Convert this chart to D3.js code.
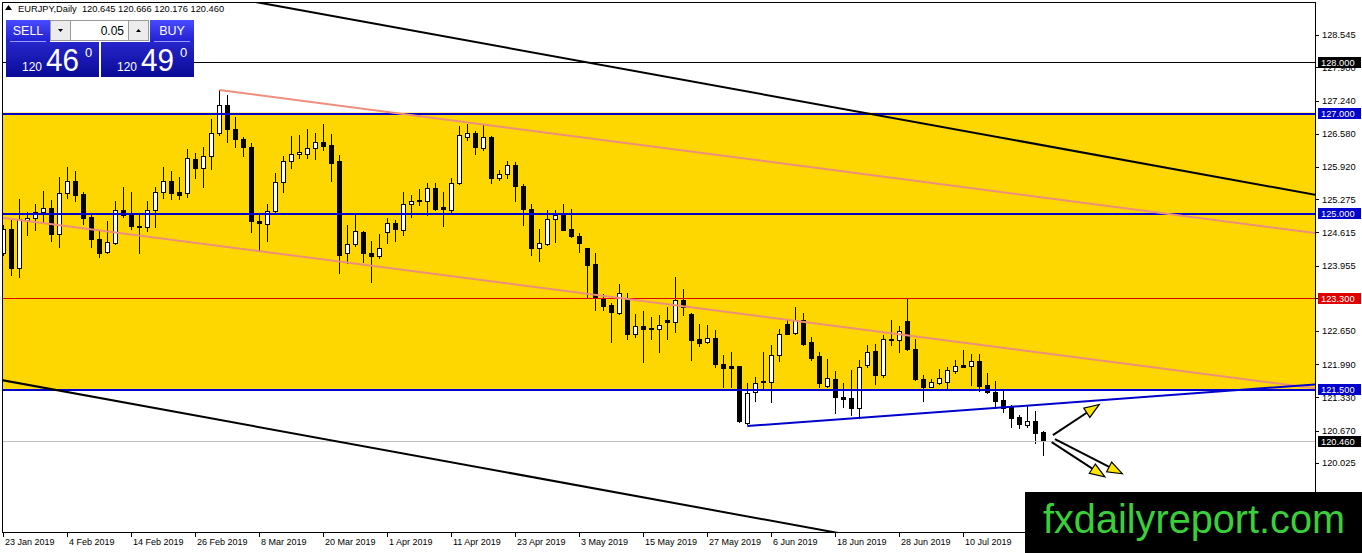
<!DOCTYPE html>
<head>
  <meta charset="utf-8">
  <script src="https://cdn.jsdelivr.net/npm/d3@7"></script>
  <style>
    body {
      margin: 0;
      background: #fff;
      overflow: hidden;
    }
    svg {
      display: block;
      font-family: "Liberation Sans", Arial, sans-serif;
    }
  </style>
</head>

<body>
  <svg width="1362" height="553"></svg>

  <script>
    // daily EURJPY bars, 23 Jan 2019 .. 24 Jul 2019
    var openPx = [124.20,124.69,123.90,124.86,124.91,125.03,125.11,124.59,125.39,125.64,
      125.38,124.92,124.49,124.22,124.41,125.07,124.96,124.74,124.72,125.06,
      125.41,125.64,125.41,125.39,126.07,125.89,126.13,126.59,127.16,126.67,
      126.47,126.31,124.84,124.79,125.04,125.62,126.03,126.17,126.17,126.30,
      126.41,126.35,126.03,124.20,124.38,124.63,124.21,124.15,124.63,124.81,
      124.67,125.18,125.26,125.24,125.49,125.12,125.07,125.59,126.52,126.59,
      126.29,126.51,125.69,125.77,125.96,125.54,125.09,124.30,124.38,124.89,
      125.00,124.69,124.54,124.30,123.98,123.30,123.17,123.01,123.28,122.60,
      122.75,122.70,122.69,122.87,122.83,123.27,122.99,122.50,122.44,122.52,
      122.00,121.95,121.95,120.83,121.43,121.63,121.64,122.17,122.79,122.62,
      122.87,122.43,122.15,121.55,121.70,121.33,121.31,121.11,121.97,122.25,
      121.77,122.49,122.48,122.85,122.30,121.69,121.54,121.61,121.63,121.86,
      121.97,121.96,122.05,121.57,121.43,121.27,121.13,120.94,120.78,120.86,
      120.645];
    var highPx = [124.76,124.86,125.29,125.03,125.19,125.44,125.26,125.71,125.91,125.84,
      125.42,125.00,124.65,124.85,125.24,125.52,125.42,124.96,125.24,125.51,
      125.91,125.84,125.72,126.27,126.19,126.31,126.87,127.45,127.35,126.92,
      126.52,126.39,124.99,125.19,125.79,126.14,126.53,126.55,126.67,126.59,
      126.77,126.57,126.15,124.77,124.99,124.64,124.44,124.59,124.90,124.86,
      125.41,125.36,125.47,125.59,125.59,125.42,125.69,126.73,126.77,126.64,
      126.75,126.53,125.86,126.04,126.02,125.58,125.19,124.69,125.07,125.07,
      125.18,125.09,124.61,124.31,124.21,123.38,123.21,123.58,123.41,123.00,
      123.05,122.93,122.97,123.14,123.72,123.49,123.01,122.79,122.77,122.67,
      122.17,122.24,121.95,121.61,121.74,122.24,122.37,122.70,122.88,123.13,
      123.01,122.53,122.24,122.10,121.86,121.61,121.87,122.08,122.37,122.39,
      122.57,122.87,122.75,123.30,122.50,121.77,121.69,121.89,121.94,122.08,
      122.28,122.19,122.19,121.81,121.66,121.46,121.18,120.99,121.18,121.06,
      120.666];
    var lowPx = [124.16,123.76,123.73,124.56,124.66,124.83,124.45,124.33,125.31,125.24,
      124.78,124.32,124.13,124.21,124.38,124.93,124.69,124.20,124.65,124.72,
      125.31,125.29,125.29,125.32,125.69,125.51,125.87,126.55,126.41,126.32,
      126.14,124.63,124.26,124.45,125.03,125.42,125.90,126.09,126.10,126.07,
      126.25,125.64,123.80,124.00,124.35,124.02,123.63,124.10,124.40,124.45,
      124.57,124.93,125.16,124.96,125.06,124.74,125.02,125.58,126.45,126.17,
      126.25,125.60,125.66,125.70,125.24,124.76,124.16,124.05,124.36,124.43,
      124.67,124.53,124.23,123.33,123.08,123.07,122.44,122.99,122.50,122.54,
      122.04,122.50,122.24,122.50,122.63,122.97,122.08,122.35,122.42,121.94,
      121.54,121.54,120.84,120.81,121.26,121.51,121.24,122.06,122.59,122.60,
      122.37,122.08,121.54,121.54,121.02,121.13,120.99,120.93,121.94,121.59,
      121.73,122.37,122.24,122.28,121.67,121.26,121.53,121.59,121.51,121.81,
      121.93,121.57,121.46,121.41,121.11,121.04,120.74,120.73,120.74,120.43,
      120.176];
    var closePx = [124.69,123.90,124.89,124.91,125.03,125.11,124.58,125.39,125.64,125.36,
      124.91,124.49,124.20,124.42,125.07,124.96,124.74,124.72,125.06,125.41,
      125.64,125.40,125.36,126.09,125.89,126.13,126.60,127.15,126.67,126.47,
      126.31,124.85,124.81,125.04,125.62,126.03,126.17,126.21,126.30,126.41,
      126.34,126.00,124.16,124.38,124.64,124.21,124.15,124.30,124.81,124.69,
      125.18,125.24,125.24,125.49,125.09,125.08,125.59,126.55,126.59,126.31,
      126.51,125.69,125.77,125.96,125.54,125.09,124.30,124.40,124.89,124.97,
      124.67,124.54,124.41,123.96,123.30,123.15,123.03,123.41,122.60,122.75,
      122.69,122.71,122.77,122.83,123.27,123.14,122.47,122.42,122.52,121.99,
      121.92,121.92,120.86,121.42,121.62,121.66,122.17,122.59,122.60,122.87,
      122.40,122.12,121.62,121.71,121.33,121.30,121.11,121.94,122.24,121.77,
      122.50,122.50,122.65,122.30,121.69,121.54,121.63,121.71,121.87,121.95,
      121.94,122.05,121.55,121.44,121.26,121.11,120.93,120.80,120.86,120.62,
      120.460];

    // time axis: a label every 8 bars
    var dateTicks = [0, 8, 16, 24, 32, 40, 48, 56, 64, 72, 80, 88, 96, 104, 112, 120];
    var dateLabels = ['23 Jan 2019', '4 Feb 2019', '14 Feb 2019', '26 Feb 2019', '8 Mar 2019',
      '20 Mar 2019', '1 Apr 2019', '11 Apr 2019', '23 Apr 2019', '3 May 2019', '15 May 2019',
      '27 May 2019', '6 Jun 2019', '18 Jun 2019', '28 Jun 2019', '10 Jul 2019'];

    // price axis
    var priceTicks = [128.545, 127.900, 127.240, 126.580, 125.920, 125.275, 124.615, 123.955,
      123.300, 122.650, 121.990, 121.330, 120.670, 120.025, 119.365];
    var levelPx = [128.000, 127.000, 125.000, 123.300, 121.500, 120.460];
    var levelKind = ['black', 'blue', 'blue', 'red', 'blue', 'last'];
    var zonePx = [127.000, 121.500];

    // drawn objects: [bar, price, bar, price]
    var channelTop = [32.3, 129.18, 164.1, 125.36];
    var channelBottom = [0, 121.67, 102.7, 118.68];
    var pinkTop = [27, 127.45, 164.1, 124.60];
    var pinkBottom = [0, 124.905, 164.1, 121.51];
    var blueTrend = [93, 120.76, 164.1, 121.59];
    var arrowFrom = [[131.2, 120.58], [131.05, 120.44], [131.46, 120.50]];
    var arrowTo = [[137.0, 121.19], [137.7, 119.75], [139.9, 119.81]];

    var header = 'EURJPY,Daily  120.645 120.666 120.176 120.460';

    var plotL = 2, plotT = 2, plotR = 1315, plotB = 532;
    var svg = d3.select('svg');

    var x = d3.scaleLinear().domain([0, 130]).range([3.3, 1043.3]);
    var y = d3.scaleLinear().domain([120.025, 128.545]).range([463, 35]);

    var blue = '#0000cd', red = '#e00000';

    var defs = svg.append('defs');
    defs.append('clipPath').attr('id', 'plot')
      .append('rect')
      .attr('x', plotL).attr('y', plotT)
      .attr('width', plotR - plotL).attr('height', plotB - plotT);

    var plot = svg.append('g').attr('clip-path', 'url(#plot)');

    // yellow zone (background rectangle)
    plot.append('rect')
      .attr('x', plotL).attr('width', plotR - plotL)
      .attr('y', y(zonePx[0])).attr('height', y(zonePx[1]) - y(zonePx[0]))
      .attr('fill', '#ffd700');

    // candles
    var bars = d3.range(openPx.length).map(function(i) {
      return {i: i, o: openPx[i], h: highPx[i], l: lowPx[i], c: closePx[i]};
    });
    var candle = plot.selectAll('g.candle')
      .data(bars).enter().append('g')
      .classed('candle', true)
      .attr('shape-rendering', 'crispEdges');
    candle.append('line')
      .attr('x1', function(d) { return Math.round(x(d.i)) + 0.5; })
      .attr('x2', function(d) { return Math.round(x(d.i)) + 0.5; })
      .attr('y1', function(d) { return Math.round(y(d.h)); })
      .attr('y2', function(d) { return Math.round(y(d.l)) + 1; })
      .attr('stroke', '#000');
    candle.append('rect')
      .attr('x', function(d) { return Math.round(x(d.i)) - 1.5; })
      .attr('width', 4)
      .attr('y', function(d) { return Math.round(y(Math.max(d.o, d.c))) + 0.5; })
      .attr('height', function(d) {
        return Math.max(1, Math.round(y(Math.min(d.o, d.c))) - Math.round(y(Math.max(d.o, d.c))));
      })
      .attr('fill', function(d) { return d.c >= d.o ? '#fff' : '#000'; })
      .attr('stroke', '#000');

    // horizontal levels
    var levelColor = {black: '#000', blue: blue, red: red, last: '#c0c0c0'};
    plot.selectAll('line.level')
      .data(levelPx).enter().append('line')
      .classed('level', true)
      .attr('x1', plotL).attr('x2', plotR)
      .attr('y1', function(d) { return Math.round(y(d)) + 0.5; })
      .attr('y2', function(d) { return Math.round(y(d)) + 0.5; })
      .attr('stroke', function(d, i) { return levelColor[levelKind[i]]; })
      .attr('stroke-width', function(d, i) { return levelKind[i] == 'blue' ? 2 : 1; })
      .attr('shape-rendering', 'crispEdges');

    // trend lines, extended across the plot (rays start at their first point)
    function trend(t, ray, color, width) {
      var x1 = x(t[0]), y1 = y(t[1]), x2 = x(t[2]), y2 = y(t[3]);
      var k = (y2 - y1) / (x2 - x1);
      var xs = ray ? x1 : plotL - 5, xe = plotR + 5;
      plot.append('line')
        .attr('x1', xs).attr('y1', y1 + k * (xs - x1))
        .attr('x2', xe).attr('y2', y1 + k * (xe - x1))
        .attr('stroke', color).attr('stroke-width', width);
    }
    trend(pinkTop, true, '#ee8f7c', 2);
    trend(pinkBottom, false, '#ee8f7c', 2);
    trend(channelTop, false, '#000', 2);
    trend(channelBottom, false, '#000', 2);
    trend(blueTrend, true, blue, 2);

    // arrows: black shaft, yellow head
    arrowFrom.forEach(function(a, i) {
      var b = arrowTo[i];
      var x1 = x(a[0]), y1 = y(a[1]), x2 = x(b[0]), y2 = y(b[1]);
      var ang = Math.atan2(y2 - y1, x2 - x1);
      var len = 15, half = 5.5;
      var bx = x2 - len * Math.cos(ang), by = y2 - len * Math.sin(ang);
      plot.append('line')
        .attr('x1', x1).attr('y1', y1).attr('x2', bx).attr('y2', by)
        .attr('stroke', '#000').attr('stroke-width', 2);
      plot.append('path')
        .attr('d', 'M' + [x2, y2] +
          'L' + [bx + half * Math.sin(ang), by - half * Math.cos(ang)] +
          'L' + [bx - half * Math.sin(ang), by + half * Math.cos(ang)] + 'Z')
        .attr('fill', '#ffe600').attr('stroke', '#000').attr('stroke-width', 1.2);
    });

    // frame
    svg.append('rect')
      .attr('x', plotL + 0.5).attr('y', plotT + 0.5)
      .attr('width', plotR - plotL).attr('height', plotB - plotT)
      .attr('fill', 'none').attr('stroke', '#000')
      .attr('shape-rendering', 'crispEdges');

    // price axis
    var pAxis = svg.append('g').attr('shape-rendering', 'crispEdges');
    pAxis.selectAll('line').data(priceTicks).enter().append('line')
      .attr('x1', plotR).attr('x2', plotR + 4)
      .attr('y1', function(d) { return Math.round(y(d)) + 0.5; })
      .attr('y2', function(d) { return Math.round(y(d)) + 0.5; })
      .attr('stroke', '#000');
    pAxis.selectAll('text').data(priceTicks).enter().append('text')
      .attr('x', plotR + 7)
      .attr('y', function(d) { return y(d); })
      .attr('dy', '0.35em')
      .attr('font-size', 9.3)
      .attr('fill', '#000')
      .text(function(d) { return d.toFixed(3); });

    var tags = svg.append('g');
    tags.selectAll('rect').data(levelPx).enter().append('rect')
      .attr('x', plotR + 3).attr('width', 43)
      .attr('y', function(d) { return Math.round(y(d)) - 5; })
      .attr('height', 11)
      .attr('fill', function(d, i) {
        var k = levelKind[i];
        return k == 'blue' ? blue : (k == 'red' ? red : '#000');
      });
    tags.selectAll('text').data(levelPx).enter().append('text')
      .attr('x', plotR + 6)
      .attr('y', function(d) { return Math.round(y(d)) + 0.5; })
      .attr('dy', '0.35em')
      .attr('font-size', 9.3)
      .attr('fill', '#fff')
      .text(function(d) { return d.toFixed(3); });

    // time axis
    var tAxis = svg.append('g');
    tAxis.selectAll('line').data(dateTicks).enter().append('line')
      .attr('x1', function(d) { return Math.round(x(d)) + 0.5; })
      .attr('x2', function(d) { return Math.round(x(d)) + 0.5; })
      .attr('y1', plotB).attr('y2', plotB + 5)
      .attr('stroke', '#000')
      .attr('shape-rendering', 'crispEdges');
    tAxis.selectAll('text').data(dateTicks).enter().append('text')
      .attr('x', function(d) { return Math.round(x(d)) + 2; })
      .attr('y', plotB + 13)
      .attr('font-size', 9)
      .attr('fill', '#000')
      .text(function(d, i) { return dateLabels[i]; });

    // header line
    svg.append('path').attr('d', 'M5 10L8.5 5L12 10Z').attr('fill', '#000');
    svg.append('text')
      .attr('x', 18).attr('y', 12)
      .attr('font-size', 9.3)
      .attr('xml:space', 'preserve')
      .text(header);

    // one-click trading panel
    var g1 = defs.append('linearGradient').attr('id', 'btn').attr('x1', 0).attr('x2', 0).attr('y1', 0).attr('y2', 1);
    g1.append('stop').attr('offset', 0).attr('stop-color', '#4a4aff');
    g1.append('stop').attr('offset', 1).attr('stop-color', '#2020d0');
    var g2 = defs.append('linearGradient').attr('id', 'box').attr('x1', 0).attr('x2', 0).attr('y1', 0).attr('y2', 1);
    g2.append('stop').attr('offset', 0).attr('stop-color', '#2626cc');
    g2.append('stop').attr('offset', 1).attr('stop-color', '#0a0a96');

    var panel = svg.append('g').attr('shape-rendering', 'crispEdges');
    panel.append('rect').attr('x', 6).attr('y', 20).attr('width', 188).attr('height', 57).attr('fill', '#fff');
    panel.append('rect').attr('x', 6).attr('y', 20).attr('width', 44).attr('height', 22).attr('fill', 'url(#btn)');
    panel.append('rect').attr('x', 150).attr('y', 20).attr('width', 44).attr('height', 22).attr('fill', 'url(#btn)');
    panel.append('rect').attr('x', 50.5).attr('y', 20.5).attr('width', 20).attr('height', 20)
      .attr('fill', '#ececec').attr('stroke', '#9a9a9a');
    panel.append('rect').attr('x', 70.5).attr('y', 20.5).attr('width', 58).attr('height', 20)
      .attr('fill', '#fff').attr('stroke', '#9a9a9a');
    panel.append('rect').attr('x', 128.5).attr('y', 20.5).attr('width', 20).attr('height', 20)
      .attr('fill', '#ececec').attr('stroke', '#9a9a9a');
    panel.append('rect').attr('x', 6).attr('y', 42).attr('width', 93).attr('height', 35).attr('fill', 'url(#box)');
    panel.append('rect').attr('x', 101).attr('y', 42).attr('width', 93).attr('height', 35).attr('fill', 'url(#box)');
    panel.append('line').attr('x1', 10).attr('x2', 46).attr('y1', 41.5).attr('y2', 41.5).attr('stroke', '#9a9aff');
    panel.append('line').attr('x1', 154).attr('x2', 190).attr('y1', 41.5).attr('y2', 41.5).attr('stroke', '#9a9aff');
    panel.append('path').attr('d', 'M58 29L63 29L60.5 32Z').attr('fill', '#000').attr('shape-rendering', 'auto');
    panel.append('path').attr('d', 'M136 32L141 32L138.5 29Z').attr('fill', '#000').attr('shape-rendering', 'auto');

    var ptext = svg.append('g').attr('fill', '#fff');
    ptext.append('text').attr('x', 28).attr('y', 35).attr('text-anchor', 'middle')
      .attr('font-size', 12.5).text('SELL');
    ptext.append('text').attr('x', 172).attr('y', 35).attr('text-anchor', 'middle')
      .attr('font-size', 12.5).text('BUY');
    ptext.append('text').attr('x', 124).attr('y', 35).attr('text-anchor', 'end')
      .attr('font-size', 12).attr('fill', '#000').text('0.05');
    [[22, '46'], [117, '49']].forEach(function(p) {
      ptext.append('text').attr('x', p[0]).attr('y', 71).attr('font-size', 13)
        .attr('textLength', 20).attr('lengthAdjust', 'spacingAndGlyphs').text('120');
      ptext.append('text').attr('x', p[0] + 24).attr('y', 71).attr('font-size', 32)
        .attr('textLength', 33).attr('lengthAdjust', 'spacingAndGlyphs').text(p[1]);
      ptext.append('text').attr('x', p[0] + 63).attr('y', 57).attr('font-size', 13).text('0');
    });

    // watermark
    svg.append('rect')
      .attr('x', 1025).attr('y', 492).attr('width', 337).attr('height', 61)
      .attr('fill', '#000');
    svg.append('text')
      .attr('x', 1043).attr('y', 533)
      .attr('font-size', 40)
      .attr('textLength', 302).attr('lengthAdjust', 'spacingAndGlyphs')
      .attr('fill', '#39d039')
      .text('fxdailyreport.com');
  </script>
</body>
